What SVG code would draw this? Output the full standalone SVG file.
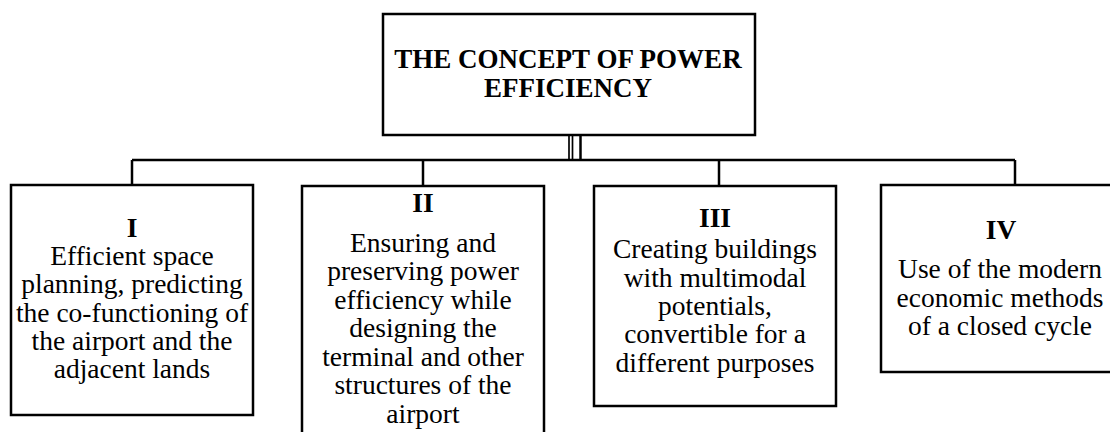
<svg xmlns="http://www.w3.org/2000/svg" width="1110" height="432" viewBox="0 0 1110 432">
<style>
.box{fill:#fff;stroke:#000;stroke-width:2.5}
.ln{stroke:#000;stroke-width:2.5;fill:none}
.thin{stroke:#000;stroke-width:1.7;fill:none}
text{font-family:"Liberation Serif","Times New Roman",serif;fill:#000;text-anchor:middle}
.t{font-size:27px;font-weight:bold}
.b{font-size:27.5px}
.n{font-size:27.5px;font-weight:bold}
</style>
<rect width="1110" height="432" fill="#fff"/>
<g id="connectors">
<line class="thin" x1="569" y1="135" x2="569" y2="160"/>
<line class="thin" x1="572.5" y1="135" x2="572.5" y2="160"/>
<line class="ln" x1="580.5" y1="135" x2="580.5" y2="160"/>
<line class="ln" x1="132" y1="160" x2="1015" y2="160"/>
<line class="ln" x1="132" y1="160" x2="132" y2="185"/>
<line class="ln" x1="423" y1="160" x2="423" y2="186"/>
<line class="ln" x1="719" y1="160" x2="719" y2="186"/>
<line class="ln" x1="1015" y1="160" x2="1015" y2="185"/>
</g>
<g id="root">
<rect class="box" x="383" y="14" width="372" height="121"/>
<text class="t" x="568" y="68">THE CONCEPT OF POWER</text>
<text class="t" x="568" y="97">EFFICIENCY</text>
</g>
<g id="node1">
<rect class="box" x="11" y="185" width="242" height="230"/>
<text class="n" x="132" y="237">I</text>
<text class="b" x="132" y="265">Efficient space</text>
<text class="b" x="132" y="293">planning, predicting</text>
<text class="b" x="132" y="322">the co-functioning of</text>
<text class="b" x="132" y="350">the airport and the</text>
<text class="b" x="132" y="378">adjacent lands</text>
</g>
<g id="node2">
<rect class="box" x="302" y="186" width="242" height="260"/>
<text class="n" x="423" y="212">II</text>
<text class="b" x="423" y="252">Ensuring and</text>
<text class="b" x="423" y="280">preserving power</text>
<text class="b" x="423" y="309">efficiency while</text>
<text class="b" x="423" y="337">designing the</text>
<text class="b" x="423" y="366">terminal and other</text>
<text class="b" x="423" y="394">structures of the</text>
<text class="b" x="423" y="423">airport</text>
</g>
<g id="node3">
<rect class="box" x="594" y="186" width="242" height="220"/>
<text class="n" x="715" y="227">III</text>
<text class="b" x="715" y="258">Creating buildings</text>
<text class="b" x="715" y="287">with multimodal</text>
<text class="b" x="715" y="315">potentials,</text>
<text class="b" x="715" y="343">convertible for a</text>
<text class="b" x="715" y="372">different purposes</text>
</g>
<g id="node4">
<rect class="box" x="881" y="185" width="240" height="187"/>
<text class="n" x="1001" y="239">IV</text>
<text class="b" x="1000" y="278">Use of the modern</text>
<text class="b" x="1000" y="307">economic methods</text>
<text class="b" x="1000" y="335">of a closed cycle</text>
</g>
</svg>
